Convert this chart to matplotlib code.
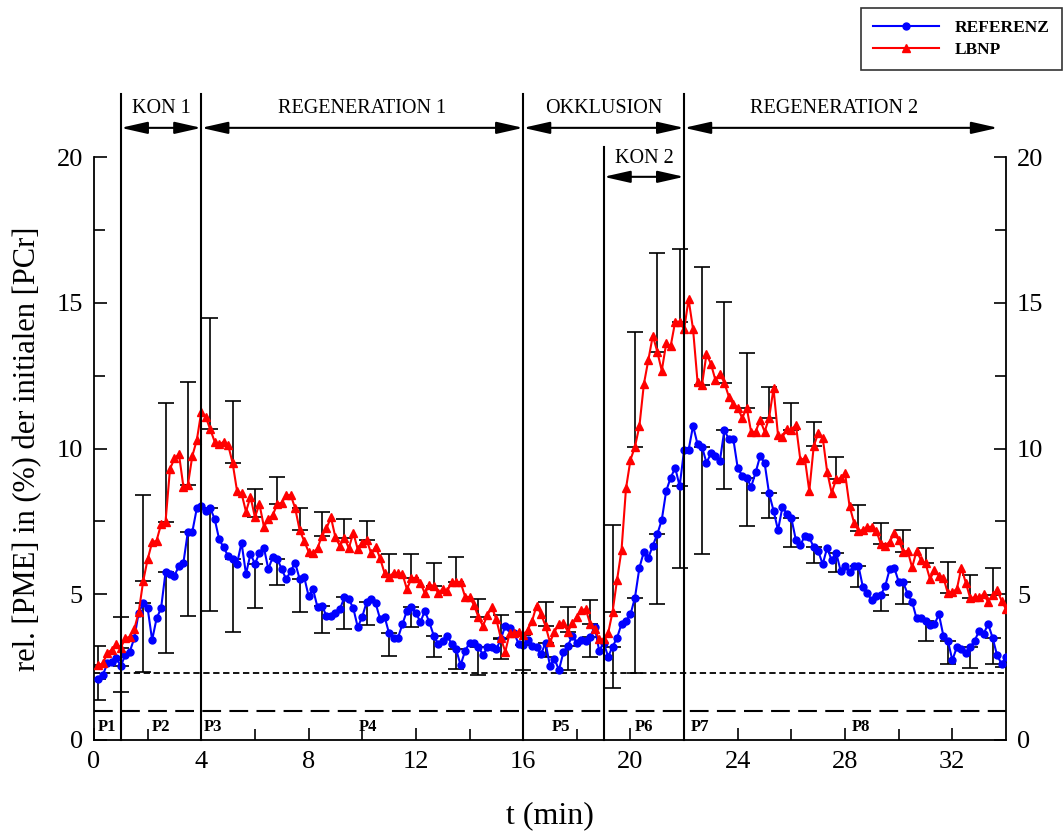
import numpy as np
import matplotlib
matplotlib.use("Agg")
import matplotlib.pyplot as plt
from matplotlib.lines import Line2D

plt.rcParams['font.family'] = ['Liberation Serif', 'DejaVu Serif']

# Messzeitpunkte (alle 10 s), in min
t_min = np.arange(1, 205) / 6.0

# REFERENZ (blau), je Zeile eine Minute
referenz = np.array([
    2.08, 2.24, 2.63, 2.69, 2.80, 2.54,
    2.92, 3.03, 3.49, 4.37, 4.69, 4.52,
    3.43, 4.17, 4.52, 5.75, 5.69, 5.64,
    5.97, 6.08, 7.15, 7.15, 7.95, 8.03,
    7.87, 7.95, 7.58, 6.88, 6.61, 6.31,
    6.22, 6.05, 6.77, 5.69, 6.39, 6.04,
    6.42, 6.60, 5.86, 6.29, 6.21, 5.86,
    5.51, 5.80, 6.08, 5.52, 5.60, 4.94,
    5.17, 4.55, 4.61, 4.25, 4.25, 4.35,
    4.49, 4.89, 4.83, 4.52, 3.87, 4.23,
    4.74, 4.83, 4.69, 4.15, 4.23, 3.66,
    3.51, 3.51, 3.98, 4.44, 4.55, 4.37,
    4.04, 4.43, 4.04, 3.58, 3.28, 3.41,
    3.58, 3.29, 3.11, 2.57, 3.05, 3.34,
    3.34, 3.20, 2.92, 3.18, 3.18, 3.12,
    3.46, 3.92, 3.85, 3.66, 3.29, 3.26,
    3.43, 3.24, 3.18, 2.94, 3.34, 2.54,
    2.78, 2.40, 3.01, 3.24, 3.57, 3.34,
    3.43, 3.41, 3.54, 3.89, 3.06, 3.34,
    2.86, 3.20, 3.51, 3.98, 4.08, 4.31,
    4.88, 5.91, 6.46, 6.25, 6.67, 7.06,
    7.55, 8.55, 9.00, 9.34, 8.71, 9.95,
    9.95, 10.78, 10.15, 10.06, 9.51, 9.83,
    9.75, 9.57, 10.63, 10.32, 10.33, 9.32,
    9.07, 8.98, 8.69, 9.18, 9.74, 9.51,
    8.46, 7.87, 7.20, 8.00, 7.75, 7.60,
    6.86, 6.69, 7.00, 6.95, 6.61, 6.48,
    6.03, 6.60, 6.16, 6.43, 5.81, 5.97,
    5.75, 5.97, 5.97, 5.24, 5.03, 4.80,
    4.94, 4.97, 5.29, 5.87, 5.91, 5.43,
    5.41, 5.01, 4.74, 4.17, 4.20, 4.09,
    3.95, 3.97, 4.31, 3.57, 3.40, 2.74,
    3.18, 3.11, 3.00, 3.18, 3.41, 3.75,
    3.64, 3.98, 3.51, 2.91, 2.61, 2.84,
])

# LBNP (rot)
lbnp = np.array([
    2.57, 2.63, 3.00, 3.09, 3.29, 3.17,
    3.49, 3.54, 3.80, 4.38, 5.45, 6.20,
    6.78, 6.84, 7.40, 7.49, 9.30, 9.66,
    9.81, 8.69, 8.75, 9.75, 10.29, 11.26,
    11.07, 10.66, 10.23, 10.14, 10.23, 10.12,
    9.51, 8.54, 8.46, 7.83, 8.35, 7.64,
    8.10, 7.32, 7.57, 7.72, 8.10, 8.14,
    8.40, 8.40, 7.95, 7.20, 6.83, 6.46,
    6.40, 6.58, 7.01, 7.26, 7.64, 6.95,
    6.66, 6.94, 6.58, 7.11, 6.54, 6.77,
    6.86, 6.40, 6.63, 6.23, 5.72, 5.58,
    5.74, 5.72, 5.69, 5.17, 5.55, 5.55,
    5.40, 5.03, 5.32, 5.29, 5.05, 5.17,
    5.11, 5.41, 5.43, 5.41, 4.92, 4.90,
    4.63, 4.21, 3.91, 4.29, 4.55, 4.14,
    3.49, 3.03, 3.68, 3.66, 3.72, 3.60,
    3.77, 4.09, 4.61, 4.32, 3.91, 3.35,
    3.72, 3.97, 4.00, 3.72, 4.00, 4.23,
    4.46, 4.48, 3.98, 3.80, 3.45, 3.45,
    3.66, 4.40, 5.49, 6.52, 8.63, 9.61,
    10.06, 10.77, 12.21, 13.04, 13.87, 13.32,
    12.67, 13.61, 13.52, 14.35, 14.35, 14.09,
    15.12, 14.09, 12.29, 12.18, 13.24, 12.90,
    12.35, 12.56, 12.26, 11.78, 11.52, 11.40,
    11.04, 11.40, 10.56, 10.58, 10.98, 10.58,
    11.04, 12.06, 10.46, 10.40, 10.66, 10.63,
    10.81, 9.61, 9.66, 8.54, 10.09, 10.52,
    10.37, 9.20, 8.48, 8.94, 8.98, 9.15,
    8.03, 7.46, 7.18, 7.20, 7.30, 7.32,
    7.18, 6.72, 6.67, 6.80, 7.09, 6.86,
    6.46, 6.49, 5.92, 6.49, 6.17, 6.06,
    5.52, 5.83, 5.64, 5.57, 5.03, 5.09,
    5.17, 5.91, 5.40, 4.86, 4.90, 4.90,
    5.00, 4.74, 4.97, 5.15, 4.78, 4.49,
])

# Fehlerbalken an jedem 5. Punkt: LBNP nach oben, REFERENZ nach unten
lbnp_oben = np.array([3.24, 4.23, 8.40, 11.57, 12.29, 14.48, 11.64, 8.60, 9.03, 7.97,
                      7.83, 7.57, 7.52, 6.37, 6.37, 6.06, 6.27, 4.83, 4.29, 4.40,
                      4.74, 4.55, 4.80, 7.38, 13.99, 16.69, 16.84, 16.24, 15.04, 13.27,
                      12.12, 11.55, 10.92, 9.72, 8.06, 7.46, 7.20, 6.60, 6.12, 5.66, 5.91])
referenz_unten = np.array([1.37, 1.66, 2.34, 2.97, 4.25, 4.44, 3.72, 4.52, 5.32, 4.38,
                           3.66, 3.80, 3.95, 2.89, 3.89, 2.86, 2.42, 2.23, 2.77, 2.40,
                           2.84, 2.40, 2.86, 1.77, 2.31, 4.67, 5.91, 6.38, 8.60, 7.34,
                           7.63, 6.61, 6.06, 5.75, 5.24, 4.44, 4.65, 3.40, 2.61, 2.46, 2.60])

# Phasengrenzen und Beschriftungen
grenzen = [1, 4, 16, 19, 22]
phasen = ['P1', 'P2', 'P3', 'P4', 'P5', 'P6', 'P7', 'P8']
phasen_x = [0.5, 2.5, 4.45, 10.2, 17.4, 20.5, 22.6, 28.6]

fig = plt.figure(figsize=(10.64, 8.32), dpi=100)
ax = fig.add_axes([94 / 1064, 92 / 832, 912 / 1064, 583 / 832])

idx = np.arange(0, 204, 5)

# Fehlerbalken
ax.errorbar(t_min[idx], lbnp[idx], yerr=[np.zeros(len(idx)), lbnp_oben - lbnp[idx]],
            fmt='none', ecolor='k', elinewidth=1.2, capsize=6, capthick=1.2, zorder=2)
ax.errorbar(t_min[idx], referenz[idx], yerr=[referenz[idx] - referenz_unten, np.zeros(len(idx))],
            fmt='none', ecolor='k', elinewidth=1.2, capsize=6, capthick=1.2, zorder=2)

# Messkurven
ax.plot(t_min, referenz, color='blue', lw=1.5, marker='o', ms=5, mec='blue', zorder=3)
ax.plot(t_min, lbnp, color='red', lw=1.5, marker='^', ms=6, mec='red', zorder=3)

# Horizontale Linien
ax.axhline(2.3, color='k', lw=1.3, dashes=(3.5, 2))
ax.axhline(1.0, color='k', lw=1.5, dashes=(9, 4))

# Senkrechte Phasengrenzen (über den Rahmen hinaus)
for g in grenzen:
    top = 20.35 if g == 19 else 22.15
    ax.plot([g, g], [0, top], color='k', lw=1.5, clip_on=False, zorder=4)

# Pfeile mit Texten
pfeil = dict(arrowstyle='<|-|>,head_length=1.15,head_width=0.26', mutation_scale=14,
             color='k', lw=1.5, shrinkA=0, shrinkB=0)
for x0, x1, y in [(1, 4, 21.0), (4, 16, 21.0), (16, 22, 21.0), (22, 33.7, 21.0), (19, 22, 19.32)]:
    ax.annotate('', xy=(x1, y), xytext=(x0, y), arrowprops=pfeil, annotation_clip=False)

for x, y, s in [(2.5, 21.68, 'KON 1'), (10, 21.68, 'REGENERATION 1'), (19, 21.68, 'OKKLUSION'),
                (27.6, 21.68, 'REGENERATION 2'), (20.5, 19.95, 'KON 2')]:
    ax.text(x, y, s, ha='center', va='center', fontsize=14.5, clip_on=False)

for x, s in zip(phasen_x, phasen):
    ax.text(x, 0.45, s, ha='center', va='center', fontsize=12, fontweight='bold')

# Achsen
ax.set_xlim(0, 34)
ax.set_ylim(0, 20)
ax.set_xticks(np.arange(0, 34, 4))
ax.set_xticks(np.arange(2, 34, 4), minor=True)
ax.set_yticks(np.arange(0, 21, 5))
ax.set_yticks(np.arange(2.5, 20, 5), minor=True)
ax.tick_params(which='both', direction='in', left=True, right=True, labelright=True,
               labelsize=19, width=1.2, pad=8)
ax.tick_params(which='major', length=9)
ax.tick_params(which='minor', length=8)
ax.spines['top'].set_visible(False)
for s in ['left', 'right', 'bottom']:
    ax.spines[s].set_linewidth(1.3)

ax.set_xlabel('t (min)', fontsize=23)
ax.xaxis.set_label_coords(0.5, -0.105)
ax.set_ylabel('rel. [PME] in (%) der initialen [PCr]', fontsize=22)
ax.yaxis.set_label_coords(-0.057, 0.5)

# Legende
handles = [Line2D([], [], color='blue', lw=1.5, marker='o', ms=5),
           Line2D([], [], color='red', lw=1.5, marker='^', ms=6)]
leg = fig.legend(handles, ['REFERENZ', 'LBNP'], loc='upper left',
                 bbox_to_anchor=(861 / 1064, 1 - 8 / 832), frameon=True, fancybox=False,
                 edgecolor='k', borderaxespad=0, handlelength=3.8, handletextpad=0.9,
                 labelspacing=0.3, borderpad=0.7, prop={'weight': 'bold', 'size': 12.5})
leg.get_frame().set_linewidth(1.2)

fig.savefig('out.png', dpi=100)
